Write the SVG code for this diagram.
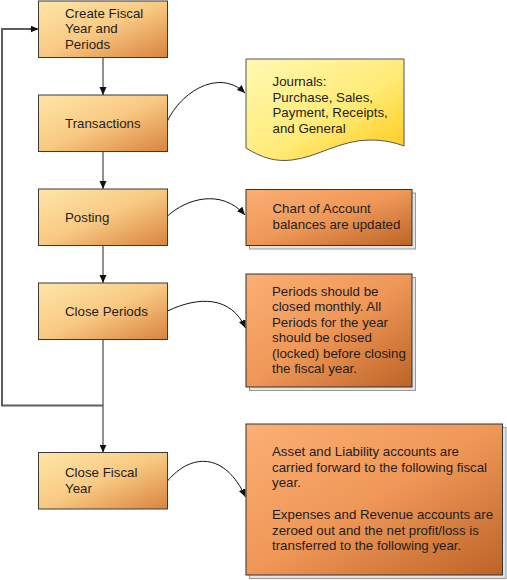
<svg xmlns="http://www.w3.org/2000/svg" width="507" height="580" viewBox="0 0 507 580">
<defs>
<linearGradient id="gLeft" x1="0" y1="0" x2="1" y2="1">
<stop offset="0" stop-color="#FFE6A8"/>
<stop offset="0.5" stop-color="#F8C982"/>
<stop offset="1" stop-color="#D9833F"/>
</linearGradient>
<linearGradient id="gOrange" x1="0" y1="0" x2="1" y2="1">
<stop offset="0" stop-color="#FBAF74"/>
<stop offset="0.5" stop-color="#EF9757"/>
<stop offset="1" stop-color="#BC6427"/>
</linearGradient>
<linearGradient id="gYellow" x1="0" y1="0" x2="1" y2="1">
<stop offset="0" stop-color="#FFF9B4"/>
<stop offset="0.55" stop-color="#FFEB78"/>
<stop offset="1" stop-color="#FFC814"/>
</linearGradient>
<marker id="arr" markerUnits="userSpaceOnUse" markerWidth="9" markerHeight="8" refX="8" refY="3.5" orient="auto">
<path d="M0,0 L8,3.5 L0,7 z" fill="#111"/>
</marker>
</defs>
<style>
.step{fill:url(#gLeft);stroke:#3a3a3a;stroke-width:1}
.note{fill:url(#gOrange);stroke:#333;stroke-width:1}
.shadow{fill:#e4e4e4;stroke:#999;stroke-width:1}
.doc{fill:url(#gYellow);stroke:#555;stroke-width:1}
text{font-family:"Liberation Sans",Arial,sans-serif;font-size:13.3px;fill:#1e1e1e}
.flow{fill:none;stroke:#222;stroke-width:1}
.loop{fill:none;stroke:#5e5e5e;stroke-width:2}
.curve{fill:none;stroke:#111;stroke-width:1}
</style>

<g id="connectors">
<line class="flow" x1="103" y1="57.5" x2="103" y2="95" marker-end="url(#arr)"/>
<line class="flow" x1="103" y1="151.5" x2="103" y2="189" marker-end="url(#arr)"/>
<line class="flow" x1="103" y1="245.5" x2="103" y2="283" marker-end="url(#arr)"/>
<line class="flow" x1="103" y1="339.5" x2="103" y2="452.5" marker-end="url(#arr)"/>
<path class="loop" d="M103,405.5 H2 V29 H37"/>
<line class="flow" x1="30" y1="29" x2="38.5" y2="29" marker-end="url(#arr)"/>
<path class="curve" d="M167.5,121 C181,92 219,68 245,93" marker-end="url(#arr)"/>
<path class="curve" d="M167.5,216 C186,199 221,188 245,215" marker-end="url(#arr)"/>
<path class="curve" d="M167.5,311 C199,296 231,296 245.5,328" marker-end="url(#arr)"/>
<path class="curve" d="M167.5,481 C191,453 225,452 245.5,497" marker-end="url(#arr)"/>
</g>

<g id="create-fiscal-year">
<rect class="step" x="38.5" y="1" width="129" height="56.5"/>
<text x="65" y="17.5">Create Fiscal</text>
<text x="65" y="33">Year and</text>
<text x="65" y="48.5">Periods</text>
</g>

<g id="transactions">
<rect class="step" x="38.5" y="95" width="129" height="56.5"/>
<text x="65" y="127.5">Transactions</text>
</g>

<g id="posting">
<rect class="step" x="38.5" y="189" width="129" height="56.5"/>
<text x="65" y="221.5">Posting</text>
</g>

<g id="close-periods">
<rect class="step" x="38.5" y="283" width="129" height="56.5"/>
<text x="65" y="316">Close Periods</text>
</g>

<g id="close-fiscal-year">
<rect class="step" x="38.5" y="452.5" width="129" height="56.5"/>
<text x="65" y="477">Close Fiscal</text>
<text x="65" y="492.5">Year</text>
</g>

<g id="journals">
<path class="doc" d="M246,59 H404 V146 C396,143 385,140 370,140 C340,140 318,157 292,160 C276,162 262,158 246,148 Z"/>
<text x="272.5" y="86">Journals:</text>
<text x="272.5" y="101.5">Purchase, Sales,</text>
<text x="272.5" y="117">Payment, Receipts,</text>
<text x="272.5" y="132.5">and General</text>
</g>

<g id="chart-of-account">
<rect class="shadow" x="249.5" y="193" width="166" height="56"/>
<rect class="note" x="246" y="189.5" width="166" height="56"/>
<text x="272.5" y="213">Chart of Account</text>
<text x="272.5" y="228.5">balances are updated</text>
</g>

<g id="periods-note">
<rect class="shadow" x="249.5" y="277.5" width="166" height="113"/>
<rect class="note" x="246" y="274" width="166" height="113"/>
<text x="272" y="295.5">Periods should be</text>
<text x="272" y="311">closed monthly. All</text>
<text x="272" y="326.5">Periods for the year</text>
<text x="272" y="342">should be closed</text>
<text x="272" y="357.5">(locked) before closing</text>
<text x="272" y="373">the fiscal year.</text>
</g>

<g id="year-end-note">
<rect class="shadow" x="249.5" y="427.5" width="256.5" height="151"/>
<rect class="note" x="246" y="424" width="256.5" height="151"/>
<text x="272" y="456">Asset and Liability accounts are</text>
<text x="272" y="471.7">carried forward to the following fiscal</text>
<text x="272" y="487.4">year.</text>
<text x="272" y="518.8">Expenses and Revenue accounts are</text>
<text x="272" y="534.5">zeroed out and the net profit/loss is</text>
<text x="272" y="550.2">transferred to the following year.</text>
</g>
</svg>
